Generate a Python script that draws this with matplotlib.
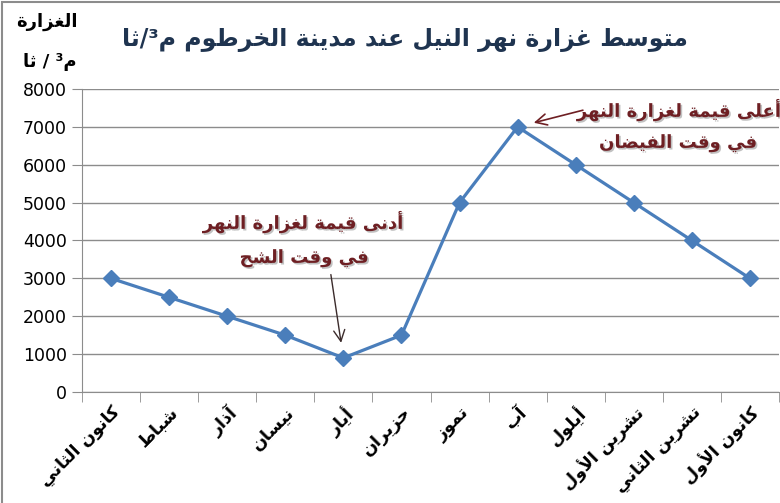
import numpy as np
import matplotlib
matplotlib.use("Agg")
import matplotlib.pyplot as plt
import matplotlib.patheffects as pe
from matplotlib.patches import Rectangle

# data
months = ["كانون الثاني", "شباط", "آذار", "نيسان", "أيار", "حزيران",
          "تموز", "آب", "أيلول", "تشرين الأول", "تشرين الثاني", "كانون الأول"]
flow = [3000, 2500, 2000, 1500, 900, 1500, 5000, 7000, 6000, 5000, 4000, 3000]
yticks = [0, 1000, 2000, 3000, 4000, 5000, 6000, 7000, 8000]

title = "متوسط غزارة نهر النيل عند مدينة الخرطوم م³/ثا"
ylab1 = "الغزارة"
ylab2 = "م³ / ثا"
low1 = "أدنى قيمة لغزارة النهر"
low2 = "في وقت الشح"
high1 = "أعلى قيمة لغزارة النهر"
high2 = "في وقت الفيضان"

# simple arabic shaping (matplotlib has no bidi / joining)
quad = {'ئ': 0xFE89, 'ب': 0xFE8F, 'ت': 0xFE95, 'ث': 0xFE99, 'ج': 0xFE9D,
        'ح': 0xFEA1, 'خ': 0xFEA5, 'س': 0xFEB1, 'ش': 0xFEB5, 'ص': 0xFEB9,
        'ض': 0xFEBD, 'ط': 0xFEC1, 'ظ': 0xFEC5, 'ع': 0xFEC9, 'غ': 0xFECD,
        'ف': 0xFED1, 'ق': 0xFED5, 'ك': 0xFED9, 'ل': 0xFEDD, 'م': 0xFEE1,
        'ن': 0xFEE5, 'ه': 0xFEE9, 'ي': 0xFEF1}
duo = {'آ': 0xFE81, 'أ': 0xFE83, 'ؤ': 0xFE85, 'إ': 0xFE87, 'ا': 0xFE8D,
       'ة': 0xFE93, 'د': 0xFEA9, 'ذ': 0xFEAB, 'ر': 0xFEAD, 'ز': 0xFEAF,
       'و': 0xFEED, 'ى': 0xFEEF}
lamalef = {'آ': 0xFEF5, 'أ': 0xFEF7, 'إ': 0xFEF9, 'ا': 0xFEFB}


def ar(s):
    out = []
    i = 0
    n = len(s)
    while i < n:
        c = s[i]
        if c not in quad and c not in duo:
            out.append(c)
            i += 1
            continue
        prev = s[i - 1] if i > 0 else ''
        pj = prev in quad
        if c == 'ل' and i + 1 < n and s[i + 1] in lamalef:
            out.append(chr(lamalef[s[i + 1]] + (1 if pj else 0)))
            i += 2
            continue
        nxt = s[i + 1] if i + 1 < n else ''
        nj = c in quad and (nxt in quad or nxt in duo)
        if c in quad:
            base = quad[c]
            k = 3 if (pj and nj) else 1 if pj else 2 if nj else 0
        else:
            base = duo[c]
            k = 1 if pj else 0
        out.append(chr(base + k))
        i += 1
    return ''.join(out[::-1])


W, H = 780, 503
fig = plt.figure(figsize=(W / 100, H / 100), dpi=100)
ax = fig.add_axes([82 / W, 1 - 392 / H, 697 / W, 303 / H])

x = np.arange(len(flow))
ax.plot(x, flow, color='#4A7EBB', lw=2.3, marker='D', ms=8,
        mfc='#4A7EBB', mec='#4A7EBB', zorder=3)

ax.set_xlim(-0.5, len(flow) - 0.5)
ax.set_ylim(0, 8000)
ax.set_yticks(yticks)
ax.set_yticklabels([str(v) for v in yticks], fontsize=12.5)
ax.yaxis.grid(True, color='#8c8c8c', lw=1)
ax.set_axisbelow(True)

ax.set_xticks(x)
ax.set_xticklabels([ar(m) for m in months], rotation=45, ha='right', va='top',
                   rotation_mode='anchor', fontsize=12.5, fontweight='bold')
ax.set_xticks(np.arange(-0.5, len(flow), 1), minor=True)
ax.tick_params(axis='x', which='major', length=0, pad=8)
ax.tick_params(axis='x', which='minor', length=7, color='#8c8c8c')
ax.tick_params(axis='y', length=7, color='#8c8c8c', pad=4)

for s in ['top', 'right']:
    ax.spines[s].set_visible(False)
for s in ['left', 'bottom']:
    ax.spines[s].set_color('#8c8c8c')

fig.text(405 / W, 1 - 40 / H, ar(title), ha='center', va='center',
         fontsize=17, fontweight='bold', color='#1F3450')
fig.text(47 / W, 1 - 22 / H, ar(ylab1), ha='center', va='center',
         fontsize=13, fontweight='bold')
fig.text(50 / W, 1 - 62 / H, ar(ylab2), ha='center', va='center',
         fontsize=13, fontweight='bold')

shadow = [pe.withSimplePatchShadow(offset=(1.2, -1.2), shadow_rgbFace='#999999', alpha=0.6)]
red = '#6E1F23'
for txt, cx, cy in [(low1, 303, 222), (low2, 304, 258),
                    (high1, 679, 110), (high2, 678, 143)]:
    fig.text(cx / W, 1 - cy / H, ar(txt), ha='center', va='center',
             fontsize=13, fontweight='bold', color=red, path_effects=shadow)

ax.annotate('', xy=(x[4], flow[4]), xytext=(-9, 60), textcoords='offset points',
            arrowprops=dict(arrowstyle='->,head_length=0.8,head_width=0.4',
                            color='#3b2b2b', lw=1, shrinkA=0, shrinkB=11))
ax.annotate('', xy=(x[7], flow[7]), xytext=(47, 12), textcoords='offset points',
            arrowprops=dict(arrowstyle='->,head_length=0.8,head_width=0.4',
                            color=red, lw=1.2, shrinkA=0, shrinkB=12))

fig.patches.append(Rectangle((2 / W, -0.01), 1.0, 1 - 2 / H + 0.01, transform=fig.transFigure,
                             fill=False, ec='#8c8c8c', lw=1.5))

fig.savefig('out.png', dpi=100)
